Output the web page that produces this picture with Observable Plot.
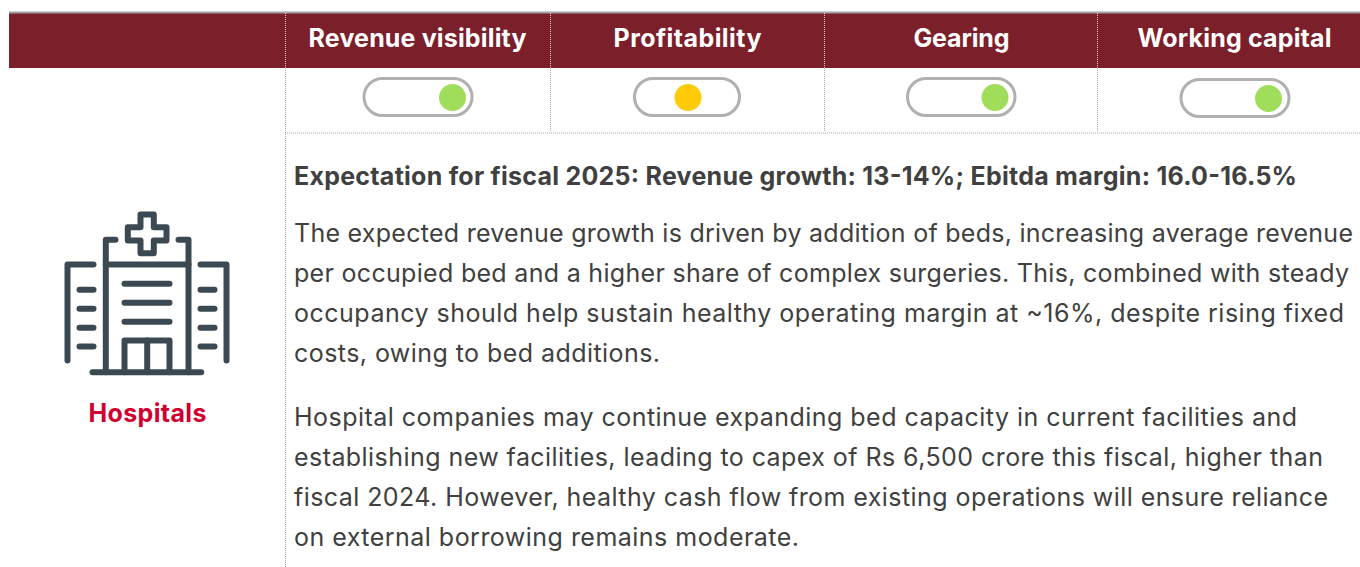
<!DOCTYPE html>
<html>
<head>
<meta charset="utf-8">
<script src="https://cdn.jsdelivr.net/npm/d3@7"></script>
<script src="https://cdn.jsdelivr.net/npm/@observablehq/plot@0.6"></script>
<style>
html,body{margin:0;padding:0;background:#fff}
svg{display:block}
</style>
</head>
<body>
<script>
// ---- content
const categories = ["Revenue visibility", "Profitability", "Gearing", "Working capital"];
const ratings = ["good", "moderate", "good", "good"];
const sector = "Hospitals";
const lead = "Expectation for fiscal 2025: Revenue growth: 13-14%; Ebitda margin: 16.0-16.5%";
const bodyLines = [
  "The expected revenue growth is driven by addition of beds, increasing average revenue",
  "per occupied bed and a higher share of complex surgeries. This, combined with steady",
  "occupancy should help sustain healthy operating margin at ~16%, despite rising fixed",
  "costs, owing to bed additions.",
  "Hospital companies may continue expanding bed capacity in current facilities and",
  "establishing new facilities, leading to capex of Rs 6,500 crore this fiscal, higher than",
  "fiscal 2024. However, healthy cash flow from existing operations will ensure reliance",
  "on external borrowing remains moderate."
];

// ---- layout (page units, mapped through Plot's scales)
const W = 1360, H = 567;
const colEdges = [285, 550, 824, 1097, 1360];
const headCentre = [417, 687, 961, 1234];
const headWidth = [218, 148, 96, 194];
const pillX = [[364, 472], [634.5, 739.5], [907.5, 1015], [1181, 1289]];
const pillY = [[78.5, 115.5], [78.5, 115.5], [78.5, 115.5], [79.5, 116.5]];
const knob = [452, 687.5, 994.5, 1268];
const bodyStart = 293.5;
const bodyY = [233.7, 273.7, 313.7, 353.7, 417.7, 457.7, 497.7, 537.7];
const bodyEnd = [1353, 1349, 1344, 660, 1297, 1323, 1328, 799];
const ratingColor = {domain: ["good", "moderate"], range: ["#a0dd5a", "#ffcb08"]};
const ink = "#404040", maroon = "#7b1f2b", rule = "#a9a9a9", iconInk = "#3b4a52";

const icon = [
  [[140,214],[153.3,214],[153.3,226.7],[166,226.7],[166,240],[153.3,240],[153.3,252.7],[140,252.7],[140,240],[127.3,240],[127.3,226.7],[140,226.7],[140,214]],
  [[115,239.3],[105.3,239.3],[105.3,371.7]],
  [[178,239.3],[188,239.3],[188,371.7]],
  [[105.3,264],[188,264]],
  [[93,264],[67,264],[67,360]],
  [[200,264],[226,264],[226,360]],
  [[79,289.3],[93,289.3]],[[79,308.3],[93,308.3]],[[79,327.3],[93,327.3]],[[79,346],[93,346]],
  [[200,289.3],[214,289.3]],[[200,308.3],[214,308.3]],[[200,327.3],[214,327.3]],[[200,346],[214,346]],
  [[124,283.3],[169,283.3]],[[124,302.3],[169,302.3]],[[124,321.3],[169,321.3]],
  [[124,371.7],[124,340],[169,340],[169,371.7]],
  [[146.7,340],[146.7,371.7]],
  [[92,371.7],[200.7,371.7]]
];
const iconPts = icon.flatMap((seg, i) => seg.map(([x, y]) => ({x, y, i})));

const cols = categories.map((name, i) => ({
  name, rating: ratings[i],
  x: headCentre[i], w: headWidth[i],
  x1: pillX[i][0], x2: pillX[i][1], y1: pillY[i][0], y2: pillY[i][1],
  knob: knob[i],
  cy: (pillY[i][0] + pillY[i][1]) / 2
}));
const body = bodyLines.map((t, i) => ({t, y: bodyY[i], w: bodyEnd[i] - 294}));
const FONT = "Inter";

const chart = Plot.plot({
  width: W, height: H,
  margin: 0,
  x: {domain: [0, W], range: [0, W], axis: null},
  y: {domain: [0, H], range: [0, H], axis: null},
  color: ratingColor,
  style: {background: "#fff", fontFamily: FONT},
  marks: [
    Plot.rect([{}], {x1: 9, x2: W, y1: 13, y2: 68, fill: maroon}),
    Plot.ruleY([12], {x1: 9, x2: W, stroke: "#a3a3a3", strokeWidth: 2}),
    Plot.ruleX(colEdges.slice(0, 4), {y1: 13, y2: 68, stroke: "#ffffff", strokeOpacity: 0.8, strokeDasharray: "1,1"}),
    Plot.ruleX(colEdges.slice(1, 4), {y1: 68, y2: 132, stroke: rule, strokeDasharray: "1,1"}),
    Plot.ruleX([colEdges[0]], {y1: 68, y2: H, stroke: rule, strokeDasharray: "1,1"}),
    Plot.ruleY([132.5], {x1: colEdges[0], x2: W, stroke: rule, strokeDasharray: "1,1"}),
    Plot.text(cols, {x: "x", y: 38.5, text: "name", fill: "#fff", fontSize: 25, fontWeight: 700, className: "fit", title: d => String(d.w)}),
    Plot.rect(cols, {x1: "x1", x2: "x2", y1: "y1", y2: "y2", rx: 18.5, fill: "#fff", stroke: "#b0b0b0", strokeWidth: 3}),
    Plot.dot(cols, {x: "knob", y: "cy", r: 13.5, fill: "rating"}),
    Plot.line(iconPts, {x: "x", y: "y", z: "i", curve: "linear", stroke: iconInk, strokeWidth: 6, strokeLinecap: "round", strokeLinejoin: "round"}),
    Plot.text([sector], {x: 147, y: 413.7, text: d => d, fill: "#d2002f", fontSize: 25, fontWeight: 700, className: "fit", title: () => "118"}),
    Plot.text([lead], {x: bodyStart, y: 176.7, text: d => d, textAnchor: "start", fill: ink, fontSize: 25, fontWeight: 700, className: "fit", title: () => "1003"}),
    Plot.text(body, {x: bodyStart, y: "y", text: "t", textAnchor: "start", fill: ink, fontSize: 25, className: "fit", title: d => String(d.w)})
  ]
});
document.body.appendChild(chart);

// fit each line of text to the width it has in the reference
chart.querySelectorAll(".fit text").forEach(t => {
  const tip = t.querySelector("title");
  if (!tip) return;
  t.setAttribute("textLength", tip.textContent);
  t.setAttribute("lengthAdjust", "spacing");
  tip.remove();
});
</script>
</body>
</html>
